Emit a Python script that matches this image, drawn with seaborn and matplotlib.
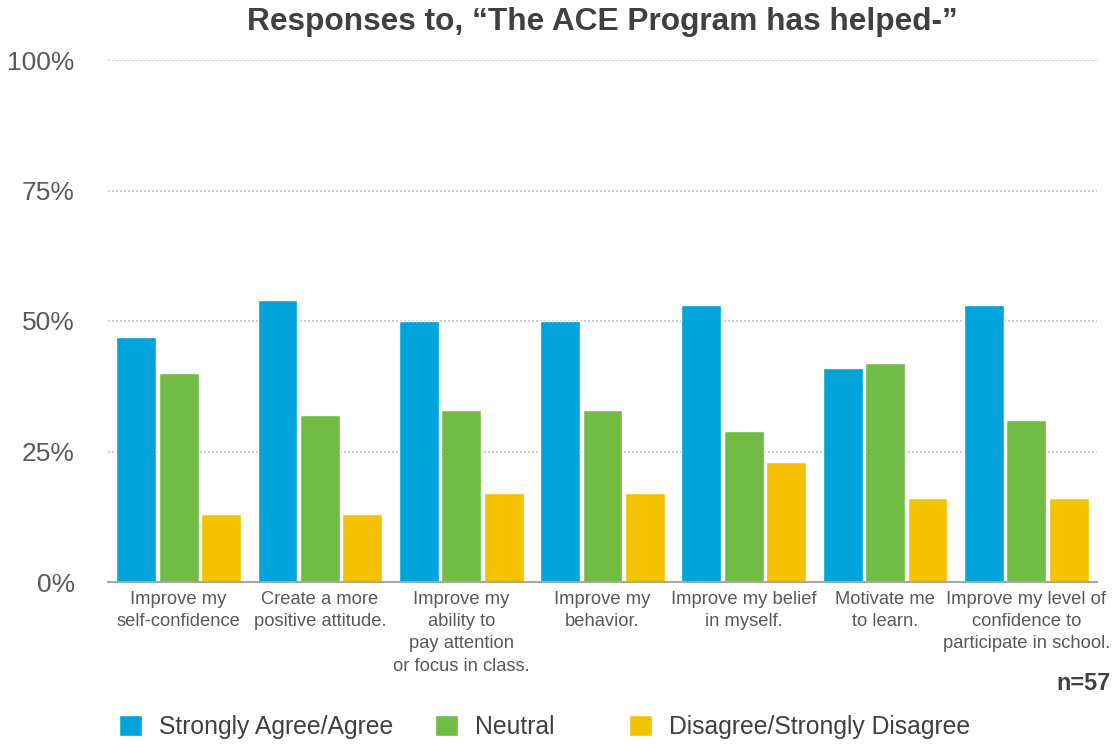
import matplotlib
matplotlib.use("Agg")
import matplotlib.pyplot as plt
from matplotlib.patches import Patch
import seaborn as sns
import pandas as pd

# Survey statements (x-axis categories)
statements = [
    "Improve my\nself-confidence",
    "Create a more\npositive attitude.",
    "Improve my\nability to\npay attention\nor focus in class.",
    "Improve my\nbehavior.",
    "Improve my belief\nin myself.",
    "Motivate me\nto learn.",
    "Improve my level of\nconfidence to\nparticipate in school.",
]

# Response shares (%) per statement
agree = [47, 54, 50, 50, 53, 41, 53]
neutral = [40, 32, 33, 33, 29, 42, 31]
disagree = [13, 13, 17, 17, 23, 16, 16]

responses = ["Strongly Agree/Agree", "Neutral", "Disagree/Strongly Disagree"]
colors = ["#00A3DA", "#70BC45", "#F5C200"]

y_ticks = [0, 25, 50, 75, 100]
y_tick_labels = ["0%", "25%", "50%", "75%", "100%"]

rows = []
for i, s in enumerate(statements):
    for r, vals in zip(responses, [agree, neutral, disagree]):
        rows.append({"statement": s, "response": r, "pct": vals[i]})
df = pd.DataFrame(rows)

sns.set_theme(style="white")
plt.rcParams["font.family"] = ["Liberation Sans", "DejaVu Sans"]

fig = plt.figure(figsize=(11.16, 7.44), dpi=100)
ax = fig.add_axes([108 / 1116, 1 - 582 / 744, (1097 - 108) / 1116, (582 - 60) / 744])

sns.barplot(
    data=df, x="statement", y="pct", hue="response",
    hue_order=responses, palette=colors, order=statements,
    width=0.9, gap=0.06, saturation=1, ax=ax, legend=False,
)

ax.set_ylim(0, 100)
ax.set_xlim(-0.5, len(statements) - 0.5)
ax.set_yticks(y_ticks)
ax.set_yticklabels(y_tick_labels, fontsize=19, color="#595959")
ax.tick_params(axis="y", length=0, pad=24)
ax.tick_params(axis="x", length=0, pad=6.5)
ax.set_xticks(range(len(statements)))
ax.set_xticklabels(statements, fontsize=13.2, color="#595959", linespacing=1.4)
ax.set_xlabel("")
ax.set_ylabel("")

for yv in y_ticks[1:]:
    ax.axhline(yv, color="#C4C4C4", lw=1.2, ls=(0, (1.2, 1.2)), zorder=0)

for side in ["top", "right", "left"]:
    ax.spines[side].set_visible(False)
ax.spines["bottom"].set_color("#A6A6A6")
ax.spines["bottom"].set_linewidth(1.5)

# Legend entries placed individually along the bottom
legend_x = [119, 435, 629]
for x, label, color in zip(legend_x, responses, colors):
    fig.legend(
        [Patch(facecolor=color)], [label], loc="center left",
        bbox_to_anchor=(x / 1116, 1 - 727 / 744), frameon=False, fontsize=17.8,
        handlelength=0.95, handleheight=0.95, handletextpad=0.65,
        borderpad=0, borderaxespad=0, labelcolor="#404040",
    )

fig.text(602 / 1116, 1 - 22 / 744, "Responses to, \u201cThe ACE Program has helped-\u201d",
         ha="center", va="center", fontsize=22.8, fontweight="bold", color="#404040")
fig.text(1110 / 1116, 1 - 683 / 744, "n=57", ha="right", va="center",
         fontsize=16.8, fontweight="bold", color="#404040")

fig.savefig("out.png", dpi=100, facecolor="white")
